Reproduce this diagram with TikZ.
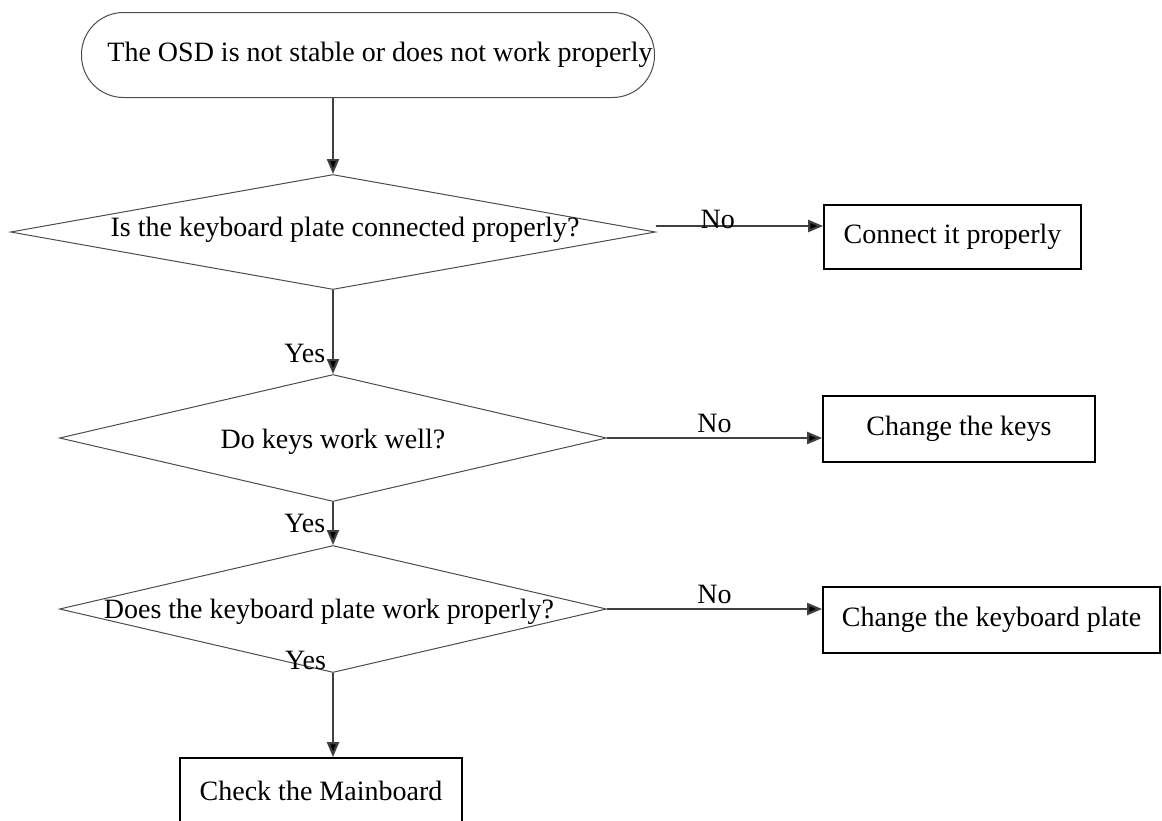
\documentclass[tikz,border=0pt]{standalone}
\usepackage{fontspec}
\setmainfont{Liberation Serif}
\usetikzlibrary{shapes.geometric, arrows.meta, positioning}

\begin{document}
\begin{tikzpicture}[x=0.5pt, y=-0.5pt,
    font=\fontsize{14}{16}\selectfont,
    decision/.style={draw=black!70, line width=0.5pt, diamond, inner sep=0pt},
    action/.style={draw, line width=0.9pt, rectangle},
    flow/.style={->, >={Triangle[length=7.5pt, width=6pt, fill=black]}, line width=1.1pt, draw=black!75}]
    \useasboundingbox (0,0) rectangle (1162,820);

    \node[draw=black!70, line width=0.5pt, rounded corners=21pt, minimum width=286.5pt, minimum height=42.5pt] (start) at (368,55) {};
    \node at (380,55) {The OSD is not stable or does not work properly};

    \node[decision, minimum width=322.5pt, minimum height=57.5pt] (d1) at (333,232) {};
    \node at (345,230) {Is the keyboard plate connected properly?};
    \node[action, minimum width=128.5pt, minimum height=32pt] (c1) at (952.5,237) {Connect it properly};

    \node[decision, minimum width=273.5pt, minimum height=63.5pt] (d2) at (333,438) {};
    \node at (333,442) {Do keys work well?};
    \node[action, minimum width=136pt, minimum height=33pt] (c2) at (959,429) {Change the keys};

    \node[decision, minimum width=273.5pt, minimum height=63.5pt] (d3) at (333,609) {};
    \node at (329,612) {Does the keyboard plate work properly?};
    \node[action, minimum width=168.5pt, minimum height=33pt] (c3) at (991.5,620) {Change the keyboard plate};

    \node[action, minimum width=141pt, minimum height=33pt] (c4) at (321,791) {Check the Mainboard};

    \draw[flow] (start.south -| d1.north) -- (d1.north);
    \draw[flow] ([yshift=3pt]d1.east) -- node[pos=0.37, above, inner sep=0pt, yshift=-2pt] {No} ([yshift=3pt]d1.east -| c1.west);
    \draw[flow] (d1.south) -- node[pos=0.75, left] {Yes} (d2.north);
    \draw[flow] (d2.east) -- node[pos=0.5, above, inner sep=2pt] {No} (d2.east -| c2.west);
    \draw[flow] (d2.south) -- node[pos=0.5, left] {Yes} (d3.north);
    \draw[flow] (d3.east) -- node[pos=0.5, above, inner sep=2pt] {No} (d3.east -| c3.west);
    \draw[flow] (d3.south) -- node[pos=0, above left, xshift=-2pt, inner sep=1pt] {Yes} (d3.south |- c4.north);
\end{tikzpicture}
\end{document}
